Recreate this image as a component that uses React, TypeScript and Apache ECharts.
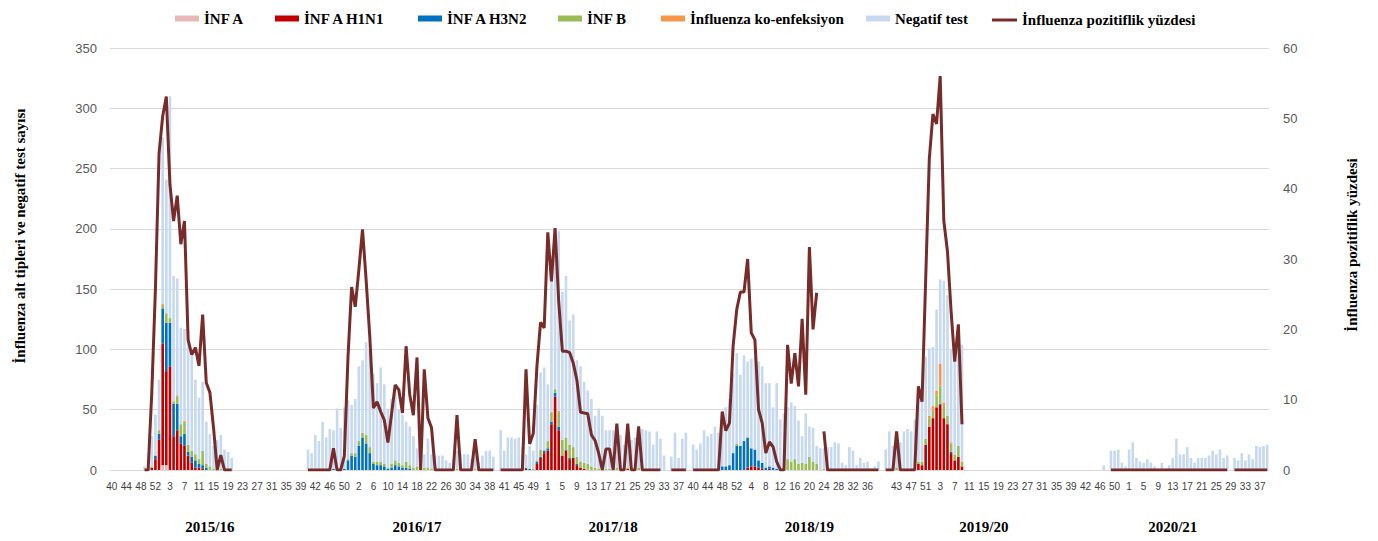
import React, { useEffect, useRef } from 'react';
import * as echarts from 'echarts';

// ---- category structure (ISO weeks, seasons run week 40 -> week 39) ----
const seasonNames = ['2015/16', '2016/17', '2017/18', '2018/19', '2019/20', '2020/21'];
const seasonStartYear = [2015, 2016, 2017, 2018, 2019, 2020];
const isoWeeksInYear: Record<number, number> = { 2015: 53, 2016: 52, 2017: 52, 2018: 52, 2019: 52, 2020: 53 };
// first week that has data in each season (the arrays below start there)
const firstDataWeek = [49, 40, 40, 40, 40, 47];
// week position (within the season) under which the season name is written
const seasonLabelOffset = [27, 30, 31, 32, 27, 26];

// ---- values per season ----
const infA: (number | null)[][] = [
  [0, 0, 0, 0, 0, 4, 4, 0, 0, 0, 0, 0, 0, 0, 0, 0, 0, 0, 0, 0, 0, 0, 0, 0, 0],
  [], [], [], [], [],
];
const h1n1: (number | null)[][] = [
  [0, 0, 2, 9, 25, 101, 78, 86, 28, 33, 22, 20, 12, 6, 2, 2, 1, 0, 0, 0, 0, 0, 0, 0, 0],
  [],
  [0, 0, 0, 0, 0, 0, 0, 1, 0, 0, 5, 10, 14, 16, 38, 61, 33, 12, 16, 9, 10, 4, 2, 1, 0, 0, 0, 0, 0, 0, 0, 0, 0, 0, 0, 1],
  [0, 0, 0, 0, 0, 0, 0, 0, 0, 0, 0, 0, 0, 0, 0, 2, 3, 3, 2, 1, 0, 1],
  [0, 0, 0, 0, 0, 0, 0, 0, 0, 5, 4, 21, 36, 43, 52, 54, 43, 38, 14, 8, 11, 3],
  [],
];
const h3n2: (number | null)[][] = [
  [0, 0, 0, 3, 5, 29, 40, 36, 27, 22, 6, 10, 3, 5, 6, 3, 3, 2, 0, 0, 0, 0, 0, 0, 0],
  [0, 0, 0, 0, 0, 0, 0, 1, 0, 0, 1, 8, 12, 11, 20, 27, 22, 14, 5, 4, 4, 3, 1, 2, 4, 3, 2, 2, 1],
  [0, 0, 0, 0, 0, 0, 0, 1, 1, 0, 2, 1, 2, 2, 2, 3, 3, 0, 1, 1, 0, 1],
  [0, 0, 0, 0, 0, 0, 0, 0, 3, 3, 4, 14, 20, 20, 24, 25, 15, 14, 6, 5, 2, 2, 2, 1],
  [0, 0, 0, 0, 0, 0, 0, 0, 0, 0, 0, 0, 0, 0, 0, 1, 0, 0, 1],
  [],
];
const infB: (number | null)[][] = [
  [0, 0, 1, 0, 3, 3, 8, 4, 2, 6, 10, 10, 6, 5, 5, 4, 12, 3, 3, 1, 0, 1, 0, 0, 0],
  [0, 0, 0, 0, 0, 0, 0, 0, 0, 0, 0, 1, 2, 3, 4, 4, 7, 5, 2, 3, 3, 2, 1, 3, 4, 3, 2, 5, 3, 2, 3, 0, 2, 2, 1, 0, 0, 0, 0, 0, 0, 1, 0, 0, 0, 0, 1],
  [0, 0, 0, 0, 0, 0, 0, 0, 0, 1, 1, 6, 1, 6, 8, 3, 12, 13, 10, 11, 9, 6, 5, 5, 5, 3, 2, 1, 0, 1, 1, 0, 2, 0, 0, 1, 0, 0, 2],
  [0, 0, 0, 0, 0, 0, 0, 0, 0, 0, 0, 0, 2, 0, 0, 0, 0, 0, 0, 0, 0, 0, 0, 0, 0, 0, 9, 7, 9, 5, 6, 5, 11, 7, 5, 0, 1],
  [0, 0, 0, 2, 0, 0, 0, 0, 0, 2, 3, 5, 7, 6, 10, 15, 10, 7, 7, 5, 9, 4],
  [],
];
const coInfection: (number | null)[][] = [
  [0, 0, 0, 0, 0, 1, 0, 0, 0, 1, 0, 1],
  [],
  [0, 0, 0, 0, 0, 0, 0, 0, 0, 0, 0, 0, 0, 0, 0, 0, 1],
  [],
  [0, 0, 0, 0, 0, 0, 0, 0, 0, 0, 0, 0, 2, 4, 4, 18, 3, 0, 1],
  [],
];
const negativeTests: (number | null)[][] = [
  [3, 5, 25, 34, 42, 138, 111, 184, 104, 97, 80, 76, 95, 83, 62, 51, 57, 35, 27, 19, 25, 28, 17, 15, 10],
  [17, 14, 29, 24, 40, 27, 34, 32, 51, 35, 51, 49, 40, 45, 62, 60, 77, 80, 73, 65, 78, 66, 49, 54, 59, 44, 42, 33, 32, 26,
    15, 13, 11, 24, 12, 12, 12, 12, 8, 6, 9, 15, 13, 13, 13, 9, 22, 6, 12, 16, 16, 11],
  [33, 16, 27, 27, 26, 27, 19, 11, 19, 15, 46, 64, 68, 47, 130, 129, 149, 123, 134, 103, 110, 80, 79, 67, 61, 56, 43, 50, 45, 32,
    32, 33, 28, 29, 21, 31, 25, 27, 26, 34, 33, 32, 21, 32, 26, 12, null, 11, 31, 10, 26, 31],
  [21, 17, 22, 33, 28, 30, 36, 31, 37, 49, 55, 66, 75, 59, 71, 63, 74, 77, 82, 80, 70, 69, 50, 71, 42, 47, 43, 49, 44, 36,
    22, 42, 25, 28, 15, 18, 17, 19, 19, 23, 22, 6, 4, 19, 16, 4, 10, 6, 7, 1, 3, 7],
  [17, 32, 20, 27, 23, 32, 34, 32, 42, 52, 61, 68, 56, 49, 67, 70, 101, 100, 77, 77, 80, 97],
  [4, null, 16, 16, 17, 6, 3, 17, 23, 10, 7, 6, 9, 6, 3, 1, 6, 1, 4, 10, 26, 13, 13, 19, 10, 6, 10, 10, 10, 12,
    16, 13, 17, 10, 12, null, 10, 8, 14, 8, 13, 9, 20, 19, 20, 21],
];
const positivityPct: (number | null)[][] = [
  [0, 0, 11, 25.7, 45, 50.3, 53.1, 40.6, 35.4, 39, 32.1, 35.4, 18.5, 16.4, 17.4, 14.8, 22.1, 12.4, 11, 6, 0, 2.1, 0, 0, 0],
  [0, 0, 0, 0, 0, 0, 0, 3.1, 0, 0, 2, 16, 26, 23.2, 28.5, 34.2, 27, 19, 8.8, 9.7, 8.3, 7.1, 3.9, 8, 12.1, 11.4, 8.1, 17.6, 10.7, 7.8,
    16, 0, 14.3, 7.4, 6, 0, 0, 0, 0, 0, 0, 7.8, 0, 0, 0, 0, 4.4, 0, 0, 0, 0, 0],
  [0, 0, 0, 0, 0, 0, 0, 14.3, 3.7, 5.2, 14.7, 21, 20.2, 33.8, 26.8, 34.4, 24, 16.9, 16.9, 16.7, 15.2, 12.8, 8.2, 8.1, 8, 5, 4.2, 2.4, 0, 3,
    3, 0, 6.6, 0, 0, 6.6, 0, 0, 6.2, 0, 0, 0, 0, 0, 0, null, null, 0, 0, 0, 0, 0],
  [0, 0, 0, 0, 0, 0, 0, 0, 8.3, 5.6, 6.7, 17.6, 22.8, 25.3, 25.3, 30, 19.5, 18.5, 8.6, 6.7, 2.4, 4, 3.3, 1.2, 0, 0, 17.8, 12.3, 16.6, 11.9,
    21.5, 10.7, 31.7, 20, 25.2, null, 5.5, 0, 0, 0, 0, 0, 0, 0, 0, 0, 0, 0, 0, 0, 0, 0],
  [0, 0, 0, 5.5, 0, 0, 0, 0, 0, 11.9, 9.7, 27, 44.2, 50.6, 49.2, 56, 35.4, 31.1, 22.6, 15.4, 20.7, 6.5],
  [null, null, 0, 0, 0, 0, 0, 0, 0, 0, 0, 0, 0, 0, 0, 0, 0, 0, 0, 0, 0, 0, 0, 0, 0, 0, 0, 0, 0, 0, 0, 0, 0, 0, 0, null,
    0, 0, 0, 0, 0, 0, 0, 0, 0, 0],
];

// ---- build the category axis ----
const categories: string[] = [];
const seasonStartIdx: number[] = [];
seasonStartYear.forEach((y, s) => {
  if (s > 0) categories.push('');
  seasonStartIdx.push(categories.length);
  for (let w = 40; w <= isoWeeksInYear[y]; w++) categories.push(String(w));
  for (let w = 1; w <= 39; w++) categories.push(String(w));
});
const weekOffset = (s: number, w: number) =>
  w >= 40 ? w - 40 : isoWeeksInYear[seasonStartYear[s]] - 39 + (w - 1);

const place = (perSeason: (number | null)[][]) => {
  const out: (number | null)[] = new Array(categories.length).fill(null);
  perSeason.forEach((arr, s) => {
    const start = seasonStartIdx[s] + weekOffset(s, firstDataWeek[s]);
    arr.forEach((v, k) => {
      out[start + k] = v;
    });
  });
  return out;
};
const seasonLabelAt: Record<number, string> = {};
seasonNames.forEach((n, s) => {
  seasonLabelAt[seasonStartIdx[s] + seasonLabelOffset[s]] = n;
});

const SERIF = "'Liberation Serif', 'Times New Roman', serif";
const SANS = "'Liberation Sans', Arial, sans-serif";

export default function App() {
  const ref = useRef<HTMLDivElement>(null);
  useEffect(() => {
    document.body.style.margin = '0';
    const chart = echarts.init(ref.current!, undefined, { renderer: 'svg' });
    const bars = [
      { name: 'İNF A', data: infA, color: '#E6B9B8' },
      { name: 'İNF A H1N1', data: h1n1, color: '#C00000' },
      { name: 'İNF A H3N2', data: h3n2, color: '#0070C0' },
      { name: 'İNF B', data: infB, color: '#9BBB59' },
      { name: 'İnfluenza ko-enfeksiyon', data: coInfection, color: '#F79646' },
      { name: 'Negatif test', data: negativeTests, color: '#C6D9F1' },
    ];
    const legendLeft = [175, 275, 418, 558, 661, 866];
    const legendText = { fontFamily: SERIF, fontWeight: 'bold' as const, fontSize: 15, color: '#000' };
    const legends: any[] = bars.map((b, i) => ({
      data: [{ name: b.name, icon: 'rect' }],
      left: legendLeft[i],
      top: 11,
      padding: 0,
      itemWidth: 24,
      itemHeight: 6,
      selectedMode: false,
      textStyle: legendText,
    }));
    legends.push({
      data: [{ name: 'İnfluenza pozitiflik yüzdesi', icon: 'rect', itemStyle: { color: '#772C2A' } }],
      left: 992,
      top: 12.5,
      padding: 0,
      itemWidth: 25,
      itemHeight: 3,
      selectedMode: false,
      textStyle: legendText,
    });

    chart.setOption({
      animation: false,
      backgroundColor: '#fff',
      grid: { left: 110, right: 109, top: 48, bottom: 71 },
      legend: legends,
      xAxis: [
        {
          type: 'category',
          data: categories,
          axisLine: { lineStyle: { color: '#D9D9D9' } },
          axisTick: { show: false },
          axisLabel: { interval: 3, fontSize: 10, margin: 11, color: '#404040', fontFamily: SANS },
        },
        {
          type: 'category',
          data: categories,
          position: 'bottom',
          axisLine: { show: false },
          axisTick: { show: false },
          splitLine: { show: false },
          axisLabel: {
            interval: (i: number) => seasonLabelAt[i] !== undefined,
            formatter: (_v: string, i: number) => seasonLabelAt[i] ?? '',
            margin: 49,
            fontFamily: SERIF,
            fontWeight: 'bold',
            fontSize: 15,
            color: '#000',
          },
        },
      ],
      yAxis: [
        {
          type: 'value',
          min: 0,
          max: 350,
          interval: 50,
          axisLine: { show: false },
          axisTick: { show: false },
          splitLine: { lineStyle: { color: '#D9D9D9' } },
          axisLabel: { fontSize: 13, color: '#595959', margin: 13, fontFamily: SANS },
        },
        {
          type: 'value',
          min: 0,
          max: 60,
          interval: 10,
          position: 'right',
          axisLine: { show: false },
          axisTick: { show: false },
          splitLine: { show: false },
          axisLabel: { fontSize: 13, color: '#595959', margin: 14, fontFamily: SANS },
        },
      ],
      graphic: [
        {
          type: 'text',
          x: 20,
          y: 236,
          rotation: Math.PI / 2,
          style: {
            text: 'İnfluenza alt tipleri ve negatif test sayısı',
            font: `bold 15px ${SERIF}`,
            fill: '#000',
            textAlign: 'center',
            textVerticalAlign: 'middle',
          },
        },
        {
          type: 'text',
          x: 1352,
          y: 245,
          rotation: Math.PI / 2,
          style: {
            text: 'İnfluenza pozitiflik yüzdesi',
            font: `bold 15px ${SERIF}`,
            fill: '#000',
            textAlign: 'center',
            textVerticalAlign: 'middle',
          },
        },
      ],
      series: [
        ...bars.map((b) => ({
          type: 'bar',
          name: b.name,
          stack: 'tests',
          data: place(b.data),
          itemStyle: { color: b.color },
          barCategoryGap: '28%',
          xAxisIndex: 0,
          yAxisIndex: 0,
        })),
        {
          type: 'line',
          name: 'İnfluenza pozitiflik yüzdesi',
          data: place(positivityPct),
          xAxisIndex: 0,
          yAxisIndex: 1,
          symbol: 'none',
          connectNulls: false,
          lineStyle: { color: '#772C2A', width: 3 },
          itemStyle: { color: '#772C2A' },
          z: 5,
        },
      ],
    });
    return () => chart.dispose();
  }, []);
  return <div ref={ref} style={{ width: 1378, height: 541 }} />;
}
